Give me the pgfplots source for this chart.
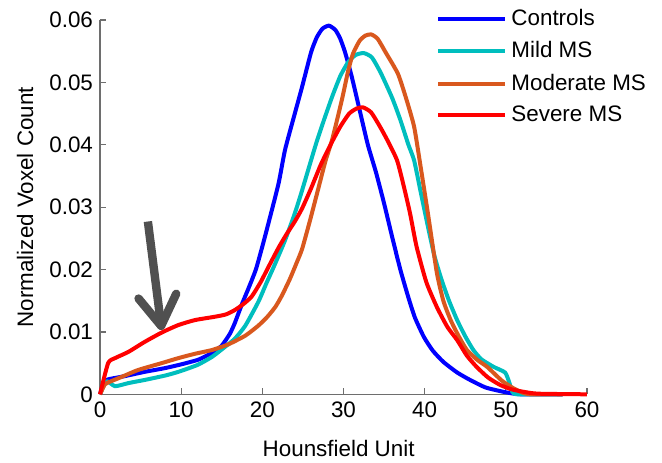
\documentclass[border=0pt]{standalone}
\usepackage{fontspec}
\setmainfont{Liberation Sans}
\usepackage{pgfplots}
\pgfplotsset{compat=1.18}
\usetikzlibrary{arrows.meta}

\definecolor{ctrl}{RGB}{0,0,255}
\definecolor{mild}{RGB}{0,190,190}
\definecolor{moder}{RGB}{217,88,30}
\definecolor{sev}{RGB}{255,0,0}
\definecolor{axgray}{RGB}{110,110,110}
\definecolor{arrowgray}{RGB}{80,80,80}

\newcommand{\fs}{\fontsize{11.2}{13.4}\selectfont}

\begin{document}
\begin{tikzpicture}
\begin{axis}[
    scale only axis,
    width=243.5pt, height=187.15pt,
    xmin=0, xmax=60, ymin=0, ymax=0.06,
    axis x line*=bottom, axis y line*=left,
    axis line style={axgray, line width=0.6pt},
    tick style={axgray, line width=0.6pt},
    tick align=inside,
    major tick length=3pt,
    xtick={0,10,20,30,40,50,60},
    ytick={0,0.01,0.02,0.03,0.04,0.05,0.06},
    scaled y ticks=false,
    yticklabel style={/pgf/number format/fixed, /pgf/number format/precision=2},
    /pgf/number format/assume math mode=true,
    tick label style={font=\fs, black},
    label style={font=\fs},
    xlabel={Hounsfield Unit},
    ylabel={Normalized Voxel Count},
    xlabel style={at={(axis description cs:0.49,-0.146)}, anchor=center},
    ylabel style={at={(axis description cs:-0.154,0.5)}, anchor=center},
    clip=false,
    legend style={draw=none, fill=none, font=\fs,
        at={(axis description cs:0.69,1.04)}, anchor=north west,
        inner sep=0pt, row sep=2.5pt,
        /tikz/every even column/.append style={column sep=2pt}},
    legend cell align=left,
    legend image code/.code={\draw[#1] (0pt,0pt) -- (33.5pt,0pt);},
    every axis plot/.append style={line width=2pt, line join=round, smooth, tension=0.35},
]

\addplot[ctrl] coordinates {
 (0,0) (0.5,0.0019) (1,0.0024) (3,0.0029) (5.5,0.0036) (8,0.0042) (10,0.0048)
 (12,0.0055) (13,0.0061) (14,0.0068) (15,0.0078) (16,0.0097) (16.6,0.0114)
 (17.5,0.0145) (18.3,0.0170) (19.2,0.0200) (20,0.0237) (20.75,0.0274) (22,0.0338)
 (22.8,0.0392) (24,0.0450) (24.9,0.0493) (26,0.0548) (26.7,0.0572) (27.4,0.0586)
 (28.2,0.0591) (29,0.0584) (29.6,0.0570) (30.2,0.0548) (31,0.0510) (32,0.0455)
 (33,0.0400) (34,0.0356) (35,0.0306) (36,0.0252) (37,0.0200) (38,0.0155)
 (38.8,0.0123) (39.9,0.0092) (41,0.0070) (42.3,0.0052) (44,0.0035) (45.6,0.0023)
 (47.5,0.0011) (49.7,0.0004) (51,0.0001) (52,0) (57,0)
};
\addlegendentry{Controls}

\addplot[mild] coordinates {
 (0,0) (0.8,0.0021) (1.85,0.0013) (3.5,0.0018) (5.5,0.0023) (8,0.0030) (9.65,0.0036)
 (12,0.0047) (13.8,0.0060) (15.2,0.0074) (16.6,0.0089) (17.9,0.0110) (19.5,0.0148)
 (20.5,0.0178) (21.6,0.0210) (22.8,0.0247) (24,0.0290) (24.9,0.0327) (26,0.0375)
 (26.7,0.0405) (27.6,0.0440) (28.6,0.0477) (29.6,0.0510) (30.6,0.0533) (31.5,0.0544)
 (32.5,0.0547) (33.5,0.0540) (34.6,0.0515) (36,0.0475) (37,0.0440) (38,0.0400)
 (38.7,0.0375) (39.5,0.0325) (40.4,0.0269) (41.2,0.0222) (42.1,0.0183) (43,0.0150)
 (44,0.0119) (45,0.0093) (46,0.0071) (47,0.0056) (48.5,0.0044) (49.9,0.0035)
 (50.4,0.0020) (50.8,0.0004) (51.5,0) (57,0)
};
\addlegendentry{Mild MS}

\addplot[moder] coordinates {
 (0,0) (0.6,0.0016) (1,0.0019) (2.5,0.0027) (4.7,0.0039) (7.6,0.0050) (9.65,0.0058)
 (11.7,0.0065) (13.8,0.0071) (15.8,0.0080) (17.9,0.0094) (19.5,0.0110) (20.6,0.0124)
 (21.6,0.0140) (22.4,0.0158) (23.4,0.0185) (24.2,0.0210) (24.9,0.0233) (25.9,0.0280)
 (26.9,0.0330) (27.8,0.0375) (28.6,0.0408) (29.8,0.0472) (30.6,0.0520) (31.2,0.0547)
 (32,0.0567) (32.7,0.0575) (33.4,0.0577) (34.2,0.0570) (35.2,0.0548) (36.7,0.0514)
 (37.7,0.0475) (38.7,0.0429) (39.5,0.0365) (40.4,0.0290) (41.5,0.0195) (42.3,0.0150)
 (43.2,0.0119) (44.2,0.0093) (45.2,0.0071) (46.5,0.0055) (47.7,0.0044) (49.5,0.0022)
 (50.9,0.0010) (52,0.0003) (53,0) (57,0)
};
\addlegendentry{Moderate MS}

\addplot[sev] coordinates {
 (0,0) (1,0.0050) (1.85,0.0058) (3.5,0.0068) (5.5,0.0084) (7.6,0.0099) (9.65,0.0111)
 (11.7,0.0119) (14,0.0124) (15.5,0.0128) (16.6,0.0135) (17.7,0.0145) (18.7,0.0157)
 (19.8,0.0180) (20.75,0.0204) (22,0.0235) (23,0.0257) (24,0.0277) (24.9,0.0298)
 (26,0.0330) (27.2,0.0368) (28.4,0.0400) (29.6,0.0429) (30.7,0.0450) (31.6,0.0458)
 (32.4,0.0460) (33.4,0.0452) (34.5,0.0429) (35.5,0.0405) (36.6,0.0375) (37.4,0.0335)
 (38.2,0.0290) (39,0.0237) (40.2,0.0180) (41.5,0.0140) (42.8,0.0108) (44,0.0087)
 (45.2,0.0062) (46.4,0.0044) (47.8,0.0027) (49.3,0.0015) (50.7,0.0008) (52.2,0.0004)
 (54,0.0001) (60,0)
};
\addlegendentry{Severe MS}

% arrow pointing at the low-density shoulder of the severe group
\draw[arrowgray, line width=4.2pt,
      -{Straight Barb[length=15pt, width=19pt, round]}]
    (axis cs:5.9,0.0277) -- (axis cs:7.6,0.0103);
\end{axis}
\pgfresetboundingbox
\path (-50pt,-33.85pt) rectangle (281pt,197.15pt);
\end{tikzpicture}
\end{document}
